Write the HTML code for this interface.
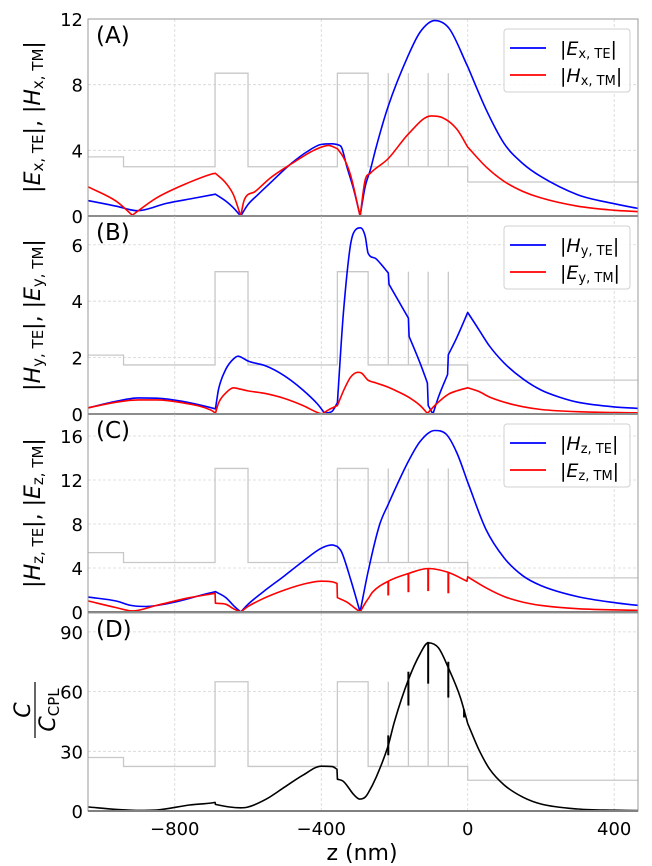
<!DOCTYPE html>
<html><head><meta charset="utf-8"><style>
html,body{margin:0;padding:0;background:#fff;}
svg{display:block;font-family:"DejaVu Sans","Liberation Sans",sans-serif;}
</style></head><body>
<svg id="chart" width="652" height="866" viewBox="0 0 652 866"></svg>
<script>
// ---- data ----
const structEdges = [-1037,-940,-690,-600,-356,-272,0,465];
const structVals = [1.2,1,2.9,1,2.9,1,0.69];
const structLines = [-217,-162,-108,-53];
const structBase = [3.0,1.74,4.5,22.4];

const aBlueZ = [-1036,-960,-902,-823,-743,-689,-660,-640,-620,-600,-573,-540,-482,-440,-400,-370,-356,-345,-330,-310,-294,-280,-266,-250,-217,-162,-130,-90,-50,0,50,100,150,200,300,400,465];
const aBlueV = [0.93,0.6,0.32,0.77,1.1,1.33,0.9,0.5,0,0.7,1.3,2.0,3.2,3.9,4.36,4.4,4.35,4.2,3.0,1.5,0,1.8,2.8,4.2,6.7,9.8,11.2,11.9,11.4,9.1,6.5,4.4,3.2,2.4,1.3,0.75,0.46];
const aRedZ = [-1036,-960,-916,-850,-760,-700,-689,-660,-640,-620,-610,-580,-540,-480,-420,-380,-356,-340,-320,-294,-280,-266,-217,-162,-100,-70,-30,0,50,100,150,200,300,400,465];
const aRedV = [1.77,0.9,0.05,1.1,2.05,2.55,2.6,2.0,1.3,0,1.0,1.5,2.3,3.2,4.0,4.3,4.1,3.6,2.5,0,2.2,2.6,3.5,5.0,6.1,6.0,5.3,4.2,3.0,2.1,1.5,1.1,0.6,0.35,0.27];

const bBlueZ = [-1036,-960,-900,-850,-780,-700,-689,-680,-660,-640,-627,-610,-600,-550,-500,-450,-410,-391,-370,-356,-340,-320,-305,-293,-280,-272,-250,-217,-215,-162,-160,-130,-110,-108,-95,-80,-55,-53,-30,0,30,60,100,150,200,250,300,400,465];
const bBlueV = [0.22,0.45,0.57,0.56,0.45,0.22,0.18,0.9,1.6,1.95,2.05,1.95,1.88,1.7,1.35,0.85,0.35,0.03,0.1,0.4,3.5,6.0,6.55,6.6,6.3,5.7,5.5,5.0,4.6,3.4,2.75,1.8,1.1,0.3,0.0,0.6,1.4,2.1,2.7,3.6,3.0,2.4,1.8,1.25,0.85,0.6,0.42,0.25,0.2];
const bRedZ = [-1036,-960,-900,-850,-780,-700,-689,-680,-660,-640,-620,-600,-550,-500,-450,-410,-398,-380,-356,-340,-320,-300,-290,-272,-250,-217,-200,-162,-130,-110,-90,-53,-30,0,30,60,100,150,200,300,465];
const bRedV = [0.22,0.42,0.5,0.5,0.4,0.13,0.03,0.4,0.75,0.93,0.88,0.82,0.72,0.55,0.3,0.05,0.0,0.15,0.3,0.8,1.3,1.48,1.45,1.2,1.1,0.95,0.85,0.6,0.3,0.02,0.3,0.7,0.82,0.93,0.8,0.6,0.42,0.26,0.16,0.08,0.04];

const cBlueZ = [-1036,-960,-920,-880,-800,-720,-689,-660,-640,-620,-600,-560,-500,-450,-400,-370,-356,-345,-320,-294,-270,-240,-217,-162,-130,-90,-60,-30,0,50,100,150,200,300,400,465];
const cBlueV = [1.35,1.0,0.6,0.5,0.9,1.6,1.85,1.3,0.6,0,0.7,1.8,3.3,4.6,5.8,6.1,5.95,5.5,3.0,0,4.0,8.0,9.8,13.7,15.5,16.5,16.2,14.5,11.8,7.5,4.9,3.3,2.4,1.4,0.85,0.6];
const cRedZ = [-1036,-960,-916,-850,-760,-690,-689,-660,-640,-620,-600,-560,-500,-440,-400,-370,-357,-356,-330,-310,-294,-280,-270,-260,-217,-162,-108,-53,-2,0,50,100,150,200,300,465];
const cRedV = [1.0,0.4,0.1,0.6,1.3,1.7,0.8,0.7,0.3,0,0.5,1.2,2.0,2.6,2.8,2.75,2.6,1.3,0.9,0.4,0,0.8,1.3,1.8,2.8,3.5,3.95,3.6,2.8,3.2,2.2,1.4,0.9,0.6,0.3,0.15];
const cSpikeZ = [-217,-162,-108,-53];
const cSpikeLow = [1.5,1.8,1.9,1.7];
const cSpikeHigh = [2.8,3.5,3.95,3.6];

const dZ = [-1036,-960,-900,-850,-760,-700,-690,-689,-650,-620,-600,-550,-500,-450,-400,-370,-357,-356,-340,-310,-295,-280,-272,-250,-217,-200,-162,-130,-108,-80,-53,-20,0,30,60,100,150,200,300,400,465];
const dV = [2.0,0.8,0.3,0.5,3.0,4.0,4.3,3.3,2.0,1.6,2.0,6,12,18,22.5,22.3,21,16,15,8,6,7,9,17,33,45,66,79,84.5,82,72,57,44,31,21,13,7,3.5,1.0,0.4,0.2];
const dSpikeZ = [-217,-162,-108,-53,-10];
const dSpikeLow = [28,53,64,57,47];
const dSpikeHigh = [38,70,85,75,51];

const xTicks = [-800,-400,0,400];
const xTickLabels = ["\u2212800","\u2212400","0","400"];
const yTicksA = [0,4,8,12], yTicksB = [0,2,4,6], yTicksC = [0,4,8,12,16], yTicksD = [0,30,60,90];
// interface positions where field derivatives are discontinuous
const interfaceZ = [-689,-356,0];

// ---- layout ----
const L = 88, R = 638;
const panels = [
  {top:19, bottom:216, ymax:12, ticks:yTicksA, tag:"(A)", name:"panel-a"},
  {top:216, bottom:414, ymax:7.02, ticks:yTicksB, tag:"(B)", name:"panel-b"},
  {top:414, bottom:612, ymax:18.0, ticks:yTicksC, tag:"(C)", name:"panel-c"},
  {top:613, bottom:811, ymax:99.5, ticks:yTicksD, tag:"(D)", name:"panel-d"}
];
const NS = "http://www.w3.org/2000/svg";
const svg = document.getElementById('chart');
function xs(z){ return L + (z + 1037) * (R - L) / 1502; }
function ysFor(p){ return v => p.bottom - v * (p.bottom - p.top) / p.ymax; }
function mk(tag, attrs, parent){
  const e = document.createElementNS(NS, tag);
  for (const k in attrs) e.setAttribute(k, attrs[k]);
  (parent || svg).appendChild(e);
  return e;
}
function curvePath(zs, vs, ys){
  const n = zs.length;
  const X = zs.map(xs), Y = vs.map(ys);
  const sec = [];
  for (let i=0;i<n-1;i++) sec.push((Y[i+1]-Y[i])/Math.max(X[i+1]-X[i],1e-6));
  const tl = new Array(n), tr = new Array(n);
  for (let i=0;i<n;i++){
    if (i===0){ tl[i]=tr[i]=sec[0]; continue; }
    if (i===n-1){ tl[i]=tr[i]=sec[n-2]; continue; }
    const jumpL = (zs[i]-zs[i-1])<=2, jumpR = (zs[i+1]-zs[i])<=2;
    const cusp = (vs[i]<=0.06 && vs[i-1]>vs[i] && vs[i+1]>vs[i]) || interfaceZ.indexOf(zs[i])>=0;
    if (cusp || jumpL || jumpR){
      tl[i] = jumpL ? 0 : sec[i-1];
      tr[i] = jumpR ? 0 : sec[i];
    } else {
      const a=sec[i-1], b=sec[i];
      let t = (a*b<=0) ? 0 : (a+b)/2;
      if (a*b>0){ const m = 3*Math.min(Math.abs(a),Math.abs(b)); if (Math.abs(t)>m) t = Math.sign(t)*m; }
      tl[i]=tr[i]=t;
    }
  }
  let d = "M"+X[0].toFixed(1)+","+Y[0].toFixed(1);
  for (let i=0;i<n-1;i++){
    const h = X[i+1]-X[i];
    if (h<=2){ d += " L"+X[i+1].toFixed(1)+","+Y[i+1].toFixed(1); continue; }
    const c1x = X[i]+h/3, c1y = Y[i]+tr[i]*h/3;
    const c2x = X[i+1]-h/3, c2y = Y[i+1]-tl[i+1]*h/3;
    d += " C"+c1x.toFixed(1)+","+c1y.toFixed(1)+" "+c2x.toFixed(1)+","+c2y.toFixed(1)+" "+X[i+1].toFixed(1)+","+Y[i+1].toFixed(1);
  }
  return d;
}
function drawSeries(zs, vs, ys, color, g, name){
  const e = mk('path', {d:curvePath(zs,vs,ys), fill:'none', stroke:color, 'stroke-width':1.6, 'stroke-linejoin':'round'}, g);
  
  
  return e;
}
function spikes(zs, lo, hi, ys, color, g, name){
  zs.forEach((z,i)=>{
    const e = mk('line', {x1:xs(z), x2:xs(z), y1:ys(lo[i]), y2:ys(hi[i]), stroke:color, 'stroke-width':2}, g);
    
    
  });
}

const series = [
  [[aBlueZ,aBlueV,'#0000ff','ex-te-line'],[aRedZ,aRedV,'#ff0000','hx-tm-line']],
  [[bBlueZ,bBlueV,'#0000ff','hy-te-line'],[bRedZ,bRedV,'#ff0000','ey-tm-line']],
  [[cBlueZ,cBlueV,'#0000ff','hz-te-line'],[cRedZ,cRedV,'#ff0000','ez-tm-line']],
  [[dZ,dV,'#000000','chirality-line']]
];
const legends = [
  ['E','x, TE','H','x, TM'],
  ['H','y, TE','E','y, TM'],
  ['H','z, TE','E','z, TM']
];

panels.forEach((p,pi)=>{
  const g = mk('g', {});
  
  
  const ys = ysFor(p);
  xTicks.forEach(t=>{
    const e = mk('line',{x1:xs(t),x2:xs(t),y1:p.top,y2:p.bottom,stroke:'#d6d6d6','stroke-width':0.8,'stroke-dasharray':'3,2'},g);
    
    
  });
  p.ticks.forEach(t=>{
    if (t===0) return;
    const e = mk('line',{x1:L,x2:R,y1:ys(t),y2:ys(t),stroke:'#d6d6d6','stroke-width':0.8,'stroke-dasharray':'3,2'},g);
    
    
  });
  const base = structBase[pi];
  let d = "";
  for (let i=0;i<structVals.length;i++){
    const y = ys(structVals[i]*base);
    d += (i===0 ? "M"+xs(structEdges[0])+","+y : " L"+xs(structEdges[i])+","+y) + " L"+xs(structEdges[i+1])+","+y;
  }
  const sp = mk('path',{d:d,fill:'none',stroke:'#c8c8c8','stroke-width':1.3},g);
  
  
  structLines.forEach(z=>{
    const e = mk('line',{x1:xs(z),x2:xs(z),y1:ys(base),y2:ys(2.9*base),stroke:'#c8c8c8','stroke-width':1.3},g);
    
    
  });
  series[pi].forEach(s=> drawSeries(s[0],s[1],ys,s[2],g,s[3]));
  if (pi===2) spikes(cSpikeZ,cSpikeLow,cSpikeHigh,ys,'#ff0000',g,'ez-tm-spike');
  if (pi===3) spikes(dSpikeZ,dSpikeLow,dSpikeHigh,ys,'#000000',g,'chirality-spike');
  const fr = mk('rect',{x:L,y:p.top,width:R-L,height:p.bottom-p.top,fill:'none',stroke:'#9a9a9a','stroke-width':1},g);
  
  
  const bl = mk('line',{x1:L,x2:R,y1:p.bottom,y2:p.bottom,stroke:'#808080','stroke-width':2},g);
  
  
  p.ticks.forEach(t=>{
    const e = mk('text',{x:L-5,y:ys(t)+7,'text-anchor':'end','font-size':18,fill:'#000'},g);
    e.textContent = t;
    
    
  });
  const tg = mk('text',{x:96,y:p.top+24,'font-size':23,fill:'#000'},g);
  tg.textContent = p.tag;
  
  
  if (pi<3){
    const lg = mk('g',{},g);
    
    
    const lt = p.top + 10;
    mk('rect',{x:504,y:lt,width:126,height:63,rx:3,fill:'#fff',stroke:'#d0d0d0','stroke-width':1,'fill-opacity':0.85},lg);
    const Lg = legends[pi];
    [['#0000ff',Lg[0],Lg[1]],['#ff0000',Lg[2],Lg[3]]].forEach((it,k)=>{
      const yy = lt + 19 + k*27;
      const ent = mk('g',{},lg);
      
      
      mk('line',{x1:510,x2:546,y1:yy,y2:yy,stroke:it[0],'stroke-width':1.8},ent);
      const tx = mk('text',{x:560,y:yy+7,'font-size':19,fill:'#000'},ent);
      tx.innerHTML = '|<tspan font-style="italic">'+it[1]+'</tspan><tspan font-size="13" dy="3">'+it[2]+'</tspan><tspan dy="-3">|</tspan>';
    });
  }
});

xTicks.forEach((t,i)=>{
  const e = mk('text',{x:xs(t),y:835,'text-anchor':'middle','font-size':18,fill:'#000'});
  e.textContent = xTickLabels[i];
  
  
});
const xt = mk('text',{x:362,y:860,'text-anchor':'middle','font-size':22,fill:'#000'});
xt.textContent = 'z (nm)';



const ytitles = [
  [117,'E','x, TE','H','x, TM'],
  [315,'H','y, TE','E','y, TM'],
  [513,'H','z, TE','E','z, TM']
];
ytitles.forEach(t=>{
  const e = mk('text',{x:0,y:0,'text-anchor':'middle','font-size':22,fill:'#000',transform:'translate(40,'+t[0]+') rotate(-90)'});
  e.innerHTML = '|<tspan font-style="italic">'+t[1]+'</tspan><tspan font-size="15" dy="3">'+t[2]+'</tspan><tspan dy="-3">|, |</tspan><tspan font-style="italic">'+t[3]+'</tspan><tspan font-size="15" dy="3">'+t[4]+'</tspan><tspan dy="-3">|</tspan>';
  
  
});
const dg = mk('g',{});


const num = mk('text',{x:0,y:0,'text-anchor':'middle','font-size':22,'font-style':'italic',transform:'translate(30,710) rotate(-90)'},dg);
num.textContent = 'C';
mk('line',{x1:35,x2:35,y1:682,y2:738,stroke:'#000','stroke-width':1.2},dg);
const den = mk('text',{x:0,y:0,'text-anchor':'middle','font-size':22,transform:'translate(55,710) rotate(-90)'},dg);
den.innerHTML = '<tspan font-style="italic">C</tspan><tspan font-size="15" dy="4">CPL</tspan>';
</script>
</body></html>
